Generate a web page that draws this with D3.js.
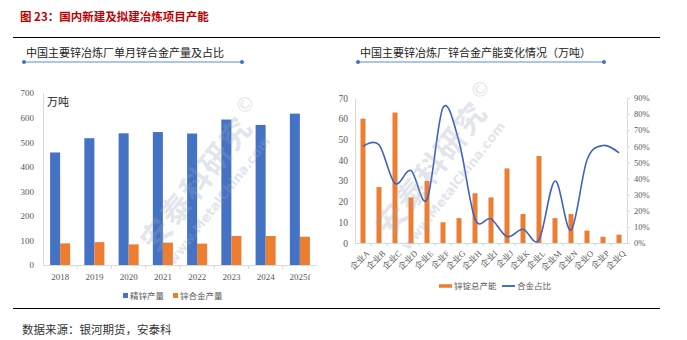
<!DOCTYPE html>
<html>
<head>
<meta charset="utf-8">
<script src="https://cdn.jsdelivr.net/npm/d3@7"></script>
<style>
  body { margin: 0; background: #fff; }
  svg { display: block; }
  .tick text { font-family: "Liberation Serif", "Noto Sans CJK SC", serif; fill: #595959; }
</style>
</head>
<body>
<svg id="chart" width="687" height="340"></svg>
<script>
// left chart data
const years = ["2018", "2019", "2020", "2021", "2022", "2023", "2024", "2025f"];
const zincOutput = [458, 516, 536, 541, 535, 592, 570, 616];
const alloyOutput = [88, 93, 84, 91, 87, 118, 118, 115];
const leftTicks = [0, 100, 200, 300, 400, 500, 600, 700];

// right chart data
const companies = ["企业A", "企业B", "企业C", "企业D", "企业E", "企业F", "企业G", "企业H", "企业I",
  "企业J", "企业K", "企业L", "企业M", "企业N", "企业O", "企业P", "企业Q"];
const capacity = [60, 27, 63, 22, 30, 10, 12, 24, 22, 36, 14, 42, 12, 14, 6, 3, 4];
const alloyShare = [0.60, 0.61, 0.37, 0.45, 0.27, 0.84, 0.63, 0.15, 0.15, 0.04, 0.085, 0.02, 0.385, 0.08, 0.515, 0.605, 0.56];
const capTicks = [0, 10, 20, 30, 40, 50, 60, 70];
const shareTicks = [0, 0.1, 0.2, 0.3, 0.4, 0.5, 0.6, 0.7, 0.8, 0.9];

const BLUE = "#4472C4";
const ORANGE = "#ED7D31";
const AXIS = "#d9d9d9";

const svg = d3.select("#chart");

// page title and frame lines
svg.append("text")
  .attr("x", 20).attr("y", 21)
  .attr("font-family", "'Noto Sans CJK SC', sans-serif")
  .attr("font-size", 11.5).attr("font-weight", "bold")
  .attr("fill", "#c00000")
  .text("图 23：国内新建及拟建冶炼项目产能");

svg.append("line").attr("x1", 13).attr("x2", 660).attr("y1", 37.5).attr("y2", 37.5)
  .attr("stroke", "#000").attr("stroke-width", 1);
svg.append("line").attr("x1", 13).attr("x2", 660).attr("y1", 308.5).attr("y2", 308.5)
  .attr("stroke", "#000").attr("stroke-width", 1);

svg.append("text")
  .attr("x", 22).attr("y", 334)
  .attr("font-family", "'Noto Sans CJK SC', sans-serif")
  .attr("font-size", 11.5).attr("fill", "#333")
  .text("数据来源：银河期货，安泰科");

// subtitle with blue underline
function subtitle(x, y, x1, x2, label) {
  svg.append("text")
    .attr("x", x).attr("y", y)
    .attr("font-family", "'Noto Sans CJK SC', sans-serif")
    .attr("font-size", 11).attr("fill", "#222")
    .text(label);
  svg.append("line").attr("x1", x1).attr("x2", x2).attr("y1", 62).attr("y2", 62)
    .attr("stroke", "#8eb4e3").attr("stroke-width", 1.5);
  [x1, x2].forEach(cx => svg.append("circle").attr("cx", cx).attr("cy", 62).attr("r", 2).attr("fill", BLUE));
}
subtitle(26, 57, 24, 242, "中国主要锌冶炼厂单月锌合金产量及占比");
subtitle(360, 57, 358, 604, "中国主要锌冶炼厂锌合金产能变化情况（万吨）");

// watermark
function watermark(cx, cy) {
  const g = svg.append("g")
    .attr("transform", `translate(${cx},${cy}) rotate(-52)`)
    .attr("opacity", 0.28);
  g.append("text").attr("text-anchor", "middle").attr("y", 0)
    .attr("font-family", "'Noto Sans CJK SC', sans-serif").attr("font-weight", "bold")
    .attr("font-size", 30).attr("fill", "#9aa6b8").attr("letter-spacing", 2)
    .text("安泰科研究");
  g.append("text").attr("text-anchor", "middle").attr("y", 22)
    .attr("font-family", "'DejaVu Sans', sans-serif").attr("font-weight", "bold")
    .attr("font-size", 13).attr("fill", "#9aa6b8")
    .text("www.MetalChina.com");
  g.append("text").attr("text-anchor", "middle").attr("x", 92).attr("y", -14)
    .attr("font-family", "'DejaVu Sans', sans-serif")
    .attr("font-size", 20).attr("fill", "#9aa6b8")
    .text("©");
}

// ---------------- left chart ----------------
const L = { left: 43, right: 317, top: 93, bottom: 265 };

const x0 = d3.scaleBand().domain(years).range([L.left, L.right]).padding(0);
const x1 = d3.scaleBand().domain(["zinc", "alloy"]).range([0, x0.bandwidth()])
  .paddingInner(0).paddingOuter(0.71);
const yL = d3.scaleLinear().domain([0, 700]).range([L.bottom, L.top]);

const gl = svg.append("g");

gl.append("g")
  .attr("transform", `translate(${L.left},0)`)
  .call(d3.axisLeft(yL).tickValues(leftTicks).tickSize(0).tickPadding(9))
  .call(g => g.select(".domain").attr("stroke", AXIS))
  .call(g => g.selectAll("text").attr("font-size", 9));

gl.append("g")
  .attr("transform", `translate(0,${L.bottom})`)
  .call(d3.axisBottom(x0).tickSize(0).tickPadding(9))
  .call(g => g.select(".domain").attr("stroke", AXIS))
  .call(g => g.selectAll("text").attr("font-size", 9).attr("fill", "#333"));

gl.selectAll(".sep")
  .data(years.slice(1))
  .enter().append("line")
  .attr("x1", d => x0(d)).attr("x2", d => x0(d))
  .attr("y1", L.bottom).attr("y2", L.bottom + 4)
  .attr("stroke", AXIS);

gl.append("text")
  .attr("x", 47).attr("y", 106)
  .attr("font-family", "'Noto Sans CJK SC', sans-serif")
  .attr("font-size", 11).attr("fill", "#222")
  .text("万吨");

const leftBars = years.flatMap((yr, i) => [
  { year: yr, type: "zinc", value: zincOutput[i] },
  { year: yr, type: "alloy", value: alloyOutput[i] }
]);

gl.selectAll(".bar")
  .data(leftBars)
  .enter().append("rect")
  .attr("x", d => x0(d.year) + x1(d.type))
  .attr("y", d => yL(d.value))
  .attr("width", x1.bandwidth())
  .attr("height", d => L.bottom - yL(d.value))
  .attr("fill", d => d.type === "zinc" ? BLUE : ORANGE);

// left legend
const legL = [{ label: "精锌产量", color: BLUE, x: 123 }, { label: "锌合金产量", color: ORANGE, x: 173 }];
legL.forEach(d => {
  gl.append("rect").attr("x", d.x).attr("y", 293).attr("width", 5).attr("height", 5).attr("fill", d.color);
  gl.append("text").attr("x", d.x + 7).attr("y", 299)
    .attr("font-family", "'Noto Sans CJK SC', sans-serif")
    .attr("font-size", 8.5).attr("fill", "#595959").text(d.label);
});

// ---------------- right chart ----------------
const R = { left: 355, right: 627, top: 98, bottom: 243 };

const xR = d3.scaleBand().domain(companies).range([R.left, R.right]).padding(0);
const yCap = d3.scaleLinear().domain([0, 70]).range([R.bottom, R.top]);
const yShare = d3.scaleLinear().domain([0, 0.9]).range([R.bottom, R.top]);

const gr = svg.append("g");

gr.append("g")
  .attr("transform", `translate(${R.left},0)`)
  .call(d3.axisLeft(yCap).tickValues(capTicks).tickSize(0).tickPadding(7))
  .call(g => g.select(".domain").attr("stroke", AXIS))
  .call(g => g.selectAll("text").attr("font-size", 9.5).attr("fill", "#333"));

gr.append("g")
  .attr("transform", `translate(${R.right},0)`)
  .call(d3.axisRight(yShare).tickValues(shareTicks).tickSize(3).tickPadding(4)
    .tickFormat(d3.format(".0%")))
  .call(g => g.select(".domain").attr("stroke", AXIS))
  .call(g => g.selectAll("line").attr("stroke", AXIS))
  .call(g => g.selectAll("text").attr("font-size", 8.5));

gr.append("g")
  .attr("transform", `translate(0,${R.bottom})`)
  .call(d3.axisBottom(xR).tickSize(0).tickPadding(0))
  .call(g => g.select(".domain").attr("stroke", AXIS))
  .call(g => g.selectAll("text")
    .attr("font-size", 8.5).attr("fill", "#333")
    .attr("text-anchor", "end")
    .attr("dy", 0)
    .attr("transform", `translate(${xR.bandwidth() / 2 - 1},11) rotate(-45)`));

gr.selectAll(".sep")
  .data(companies.slice(1))
  .enter().append("line")
  .attr("x1", d => xR(d)).attr("x2", d => xR(d))
  .attr("y1", R.bottom).attr("y2", R.bottom + 3)
  .attr("stroke", AXIS);

gr.selectAll(".cap")
  .data(companies)
  .enter().append("rect")
  .attr("x", d => xR(d) + xR.bandwidth() / 2 - 2.5)
  .attr("y", (d, i) => yCap(capacity[i]))
  .attr("width", 5)
  .attr("height", (d, i) => R.bottom - yCap(capacity[i]))
  .attr("fill", ORANGE);

watermark(205, 190);
watermark(440, 175);

const shareLine = d3.line()
  .x((d, i) => xR(companies[i]) + xR.bandwidth() / 2)
  .y(d => yShare(d))
  .curve(d3.curveCatmullRom.alpha(0));

gr.append("path")
  .datum(alloyShare)
  .attr("d", shareLine)
  .attr("fill", "none")
  .attr("stroke", "#3f62c4")
  .attr("stroke-width", 1.6);

// right legend
gr.append("line").attr("x1", 439).attr("x2", 452).attr("y1", 286).attr("y2", 286)
  .attr("stroke", ORANGE).attr("stroke-width", 3.5);
gr.append("text").attr("x", 454).attr("y", 289)
  .attr("font-family", "'Noto Sans CJK SC', sans-serif")
  .attr("font-size", 8.5).attr("fill", "#595959").text("锌锭总产能");
gr.append("line").attr("x1", 502).attr("x2", 515).attr("y1", 286).attr("y2", 286)
  .attr("stroke", BLUE).attr("stroke-width", 2);
gr.append("text").attr("x", 517).attr("y", 289)
  .attr("font-family", "'Noto Sans CJK SC', sans-serif")
  .attr("font-size", 8.5).attr("fill", "#595959").text("合金占比");
</script>
</body>
</html>
